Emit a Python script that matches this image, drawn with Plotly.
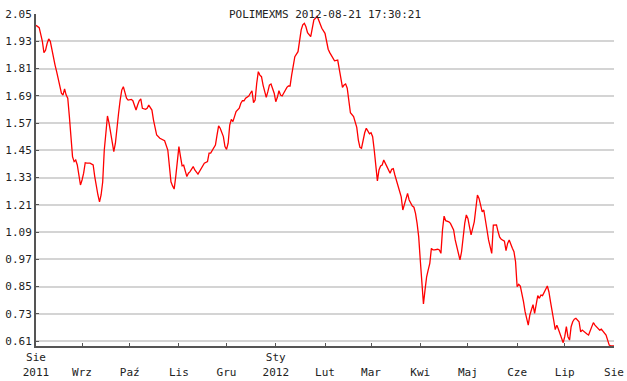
import plotly.graph_objects as go

title_text = "POLIMEXMS 2012-08-21 17:30:21"

dates = [
    "2011-08-03", "2011-08-05", "2011-08-06", "2011-08-07", "2011-08-08", "2011-08-09", "2011-08-10",
    "2011-08-11", "2011-08-12", "2011-08-13", "2011-08-14", "2011-08-15", "2011-08-16", "2011-08-17",
    "2011-08-18", "2011-08-19", "2011-08-20", "2011-08-21", "2011-08-22", "2011-08-23", "2011-08-24",
    "2011-08-25", "2011-08-26", "2011-08-27", "2011-08-28", "2011-08-29", "2011-08-30", "2011-08-31",
    "2011-09-01", "2011-09-02", "2011-09-03", "2011-09-04", "2011-09-06", "2011-09-08", "2011-09-09",
    "2011-09-10", "2011-09-11", "2011-09-12", "2011-09-13", "2011-09-14", "2011-09-15", "2011-09-16",
    "2011-09-17", "2011-09-18", "2011-09-19", "2011-09-20", "2011-09-21", "2011-09-22", "2011-09-23",
    "2011-09-24", "2011-09-25", "2011-09-26", "2011-09-27", "2011-09-28", "2011-09-29", "2011-09-30",
    "2011-10-02", "2011-10-03", "2011-10-05", "2011-10-06", "2011-10-07", "2011-10-08", "2011-10-09",
    "2011-10-11", "2011-10-12", "2011-10-13", "2011-10-15", "2011-10-16", "2011-10-17", "2011-10-18",
    "2011-10-20", "2011-10-21", "2011-10-23", "2011-10-25", "2011-10-26", "2011-10-27", "2011-10-28",
    "2011-10-29", "2011-10-30", "2011-10-31",
    "2011-11-01", "2011-11-02", "2011-11-03", "2011-11-04", "2011-11-06", "2011-11-07", "2011-11-08",
    "2011-11-10", "2011-11-11", "2011-11-13", "2011-11-14", "2011-11-16", "2011-11-17", "2011-11-19",
    "2011-11-20", "2011-11-21", "2011-11-22", "2011-11-24", "2011-11-25", "2011-11-26", "2011-11-27",
    "2011-11-29", "2011-11-30",
    "2011-12-01", "2011-12-02", "2011-12-03", "2011-12-04", "2011-12-05", "2011-12-06", "2011-12-07",
    "2011-12-09", "2011-12-10", "2011-12-11", "2011-12-12", "2011-12-13", "2011-12-15", "2011-12-16",
    "2011-12-17", "2011-12-18", "2011-12-19", "2011-12-20", "2011-12-21", "2011-12-22", "2011-12-23",
    "2011-12-24", "2011-12-25", "2011-12-26", "2011-12-27", "2011-12-28", "2011-12-29", "2011-12-30",
    "2011-12-31",
    "2012-01-01", "2012-01-02", "2012-01-03", "2012-01-04", "2012-01-05", "2012-01-06", "2012-01-08",
    "2012-01-09", "2012-01-10", "2012-01-11", "2012-01-12", "2012-01-13", "2012-01-15", "2012-01-16",
    "2012-01-17", "2012-01-18", "2012-01-19", "2012-01-20", "2012-01-21", "2012-01-23", "2012-01-24",
    "2012-01-25", "2012-01-26", "2012-01-27", "2012-01-28", "2012-01-29", "2012-01-30",
    "2012-02-01", "2012-02-02", "2012-02-03", "2012-02-04", "2012-02-06", "2012-02-07", "2012-02-09",
    "2012-02-10", "2012-02-11", "2012-02-12", "2012-02-13", "2012-02-14", "2012-02-15", "2012-02-16",
    "2012-02-17", "2012-02-19", "2012-02-20", "2012-02-21", "2012-02-22", "2012-02-23", "2012-02-24",
    "2012-02-25", "2012-02-26", "2012-02-27", "2012-02-29",
    "2012-03-01", "2012-03-02", "2012-03-03", "2012-03-04", "2012-03-05", "2012-03-06", "2012-03-07",
    "2012-03-08", "2012-03-09", "2012-03-11", "2012-03-12", "2012-03-13", "2012-03-14", "2012-03-15",
    "2012-03-16", "2012-03-18", "2012-03-19", "2012-03-20", "2012-03-21", "2012-03-22", "2012-03-23",
    "2012-03-24", "2012-03-25", "2012-03-27", "2012-03-28", "2012-03-29", "2012-03-30", "2012-03-31",
    "2012-04-01", "2012-04-02", "2012-04-03", "2012-04-04", "2012-04-05", "2012-04-06", "2012-04-07",
    "2012-04-08", "2012-04-09", "2012-04-10", "2012-04-12", "2012-04-13", "2012-04-14", "2012-04-15",
    "2012-04-16", "2012-04-17", "2012-04-19", "2012-04-20", "2012-04-22", "2012-04-23", "2012-04-24",
    "2012-04-25", "2012-04-26", "2012-04-27", "2012-04-28", "2012-04-29", "2012-04-30",
    "2012-05-01", "2012-05-02", "2012-05-03", "2012-05-05", "2012-05-06", "2012-05-07", "2012-05-08",
    "2012-05-09", "2012-05-10", "2012-05-11", "2012-05-12", "2012-05-13", "2012-05-14", "2012-05-15",
    "2012-05-16", "2012-05-17", "2012-05-19", "2012-05-20", "2012-05-21", "2012-05-22", "2012-05-24",
    "2012-05-25", "2012-05-26", "2012-05-27", "2012-05-28", "2012-05-29", "2012-05-30", "2012-05-31",
    "2012-06-01", "2012-06-02", "2012-06-03", "2012-06-04", "2012-06-05", "2012-06-06", "2012-06-07",
    "2012-06-08", "2012-06-09", "2012-06-10", "2012-06-11", "2012-06-12", "2012-06-13", "2012-06-14",
    "2012-06-15", "2012-06-16", "2012-06-17", "2012-06-18", "2012-06-19", "2012-06-20", "2012-06-21",
    "2012-06-22", "2012-06-23", "2012-06-24", "2012-06-25", "2012-06-26", "2012-06-27", "2012-06-28",
    "2012-06-29", "2012-06-30",
    "2012-07-01", "2012-07-02", "2012-07-03", "2012-07-04", "2012-07-05", "2012-07-06", "2012-07-07",
    "2012-07-08", "2012-07-10", "2012-07-11", "2012-07-12", "2012-07-13", "2012-07-15", "2012-07-16",
    "2012-07-18", "2012-07-19", "2012-07-20", "2012-07-22", "2012-07-23", "2012-07-24", "2012-07-26",
    "2012-07-27", "2012-07-28", "2012-07-29", "2012-07-30", "2012-08-01",
]

prices = [
    2.00, 1.99, 1.96, 1.93, 1.88, 1.89, 1.92,
    1.94, 1.93, 1.89, 1.855, 1.825, 1.796, 1.767,
    1.724, 1.701, 1.693, 1.720, 1.693, 1.679, 1.60,
    1.495, 1.422, 1.40, 1.407, 1.385, 1.349, 1.297,
    1.319, 1.349, 1.395, 1.393, 1.393, 1.385, 1.334,
    1.290, 1.253, 1.223, 1.253, 1.31, 1.451, 1.525,
    1.601, 1.569, 1.525, 1.481, 1.444, 1.481, 1.561,
    1.613, 1.671, 1.715, 1.730, 1.708, 1.679, 1.671,
    1.674, 1.668, 1.627, 1.649, 1.668, 1.676, 1.635,
    1.630, 1.635, 1.649, 1.627, 1.583, 1.547, 1.517,
    1.503, 1.500, 1.492, 1.451, 1.378, 1.311, 1.293,
    1.279, 1.334, 1.407,
    1.466, 1.422, 1.381, 1.384, 1.334, 1.349, 1.356,
    1.378, 1.363, 1.345, 1.356, 1.378, 1.393, 1.400,
    1.437, 1.437, 1.451, 1.473, 1.517, 1.557, 1.547,
    1.510, 1.466,
    1.454, 1.481, 1.561, 1.586, 1.576, 1.598, 1.620,
    1.635, 1.657, 1.668, 1.668, 1.679, 1.689, 1.701,
    1.712, 1.66, 1.671, 1.745, 1.796, 1.781, 1.774,
    1.737, 1.715, 1.683, 1.708, 1.737, 1.742, 1.723,
    1.701,
    1.664, 1.683, 1.712, 1.693, 1.689, 1.703, 1.727,
    1.733, 1.733, 1.781, 1.825, 1.862, 1.884, 1.928,
    1.980, 2.002, 2.009, 1.994, 1.968, 1.950, 1.980,
    2.024, 2.031, 2.041, 2.024, 2.002, 1.987,
    1.965, 1.928, 1.895, 1.880, 1.852, 1.844, 1.847,
    1.811, 1.774, 1.727, 1.737, 1.742, 1.723, 1.671,
    1.615, 1.598, 1.571, 1.551, 1.495, 1.463, 1.459,
    1.498, 1.527, 1.547, 1.522,
    1.527, 1.510, 1.451, 1.37, 1.315, 1.363, 1.381,
    1.385, 1.407, 1.378, 1.366, 1.349, 1.366, 1.369,
    1.341, 1.290, 1.260, 1.245, 1.187, 1.216, 1.245,
    1.260, 1.231, 1.204, 1.199, 1.172, 1.128, 1.069,
    0.967, 0.84, 0.773, 0.835, 0.893, 0.923, 0.952,
    1.018, 1.011, 1.011, 1.014, 1.011, 0.996, 1.10,
    1.160, 1.140, 1.135, 1.128, 1.099, 1.055, 1.025,
    0.996, 0.967, 1.003, 1.069, 1.128, 1.165,
    1.150, 1.113, 1.077, 1.135, 1.20, 1.253, 1.238,
    1.209, 1.179, 1.187, 1.15, 1.10, 1.055, 1.018,
    0.996, 1.12, 1.121, 1.091, 1.067, 1.058, 1.05,
    1.008, 1.040, 1.055, 1.033, 1.018, 1.003, 0.959,
    0.849, 0.86, 0.852, 0.820, 0.783, 0.739, 0.7025,
    0.680, 0.7245, 0.754, 0.77, 0.732, 0.769, 0.81,
    0.798, 0.8125, 0.81, 0.827, 0.838, 0.852, 0.827,
    0.783, 0.732, 0.7025, 0.66, 0.680, 0.6615, 0.644,
    0.622, 0.6025,
    0.63, 0.673, 0.629, 0.614, 0.673, 0.695, 0.706,
    0.710, 0.695, 0.65, 0.658, 0.651, 0.641, 0.636,
    0.673, 0.691, 0.680, 0.666, 0.658, 0.662, 0.644,
    0.636, 0.614, 0.592, 0.588, 0.588,
]

x_tick_vals = ["2011-08-03", "2011-09-01", "2011-10-01", "2011-11-01", "2011-12-01", "2012-01-01",
               "2012-02-01", "2012-03-01", "2012-04-01", "2012-05-01", "2012-06-01", "2012-07-01",
               "2012-08-01"]
x_tick_text = ["Sie<br>2011", " <br>Wrz", " <br>Paź", " <br>Lis", " <br>Gru", "Sty<br>2012",
               " <br>Lut", " <br>Mar", " <br>Kwi", " <br>Maj", " <br>Cze", " <br>Lip", " <br>Sie"]
y_tick_vals = [0.61, 0.73, 0.85, 0.97, 1.09, 1.21, 1.33, 1.45, 1.57, 1.69, 1.81, 1.93, 2.05]
y_tick_text = ["0.61", "0.73", "0.85", "0.97", "1.09", "1.21", "1.33", "1.45", "1.57", "1.69",
               "1.81", "1.93", "2.05"]

font_family = "DejaVu Sans Mono"

fig = go.Figure()
fig.add_trace(go.Scatter(
    x=dates, y=prices, mode="lines",
    line=dict(color="#ff0000", width=1.3),
    showlegend=False, hoverinfo="skip",
))

fig.update_layout(
    width=627, height=381,
    margin=dict(l=36, r=13, t=14, b=35, autoexpand=False),
    paper_bgcolor="white", plot_bgcolor="white",
    font=dict(family=font_family, size=11, color="#222222"),
    title=dict(text=title_text, x=0.5, xref="paper", xanchor="center",
               y=1 - 14 / 381, yref="container", yanchor="middle", automargin=False,
               font=dict(family=font_family, size=11, color="#222222")),
    xaxis=dict(
        type="date", range=["2011-08-03", "2012-08-01"], automargin=False,
        tickmode="array", tickvals=x_tick_vals, ticktext=x_tick_text,
        showgrid=False, zeroline=False,
        showline=True, linecolor="#555555", linewidth=2,
        ticks="inside", ticklen=3, tickcolor="#555555", tickwidth=1,
        tickfont=dict(family=font_family, size=11, color="#222222"),
    ),
    yaxis=dict(
        range=[0.588, 2.05], automargin=False,
        tickmode="array", tickvals=y_tick_vals, ticktext=y_tick_text,
        showgrid=True, gridcolor="#d4d4d4", gridwidth=1.5, zeroline=False,
        showline=True, linecolor="#555555", linewidth=2,
        ticks="inside", ticklen=3, tickcolor="#555555", tickwidth=1,
        tickfont=dict(family=font_family, size=11, color="#222222"),
    ),
)

fig.write_html("out.html")
